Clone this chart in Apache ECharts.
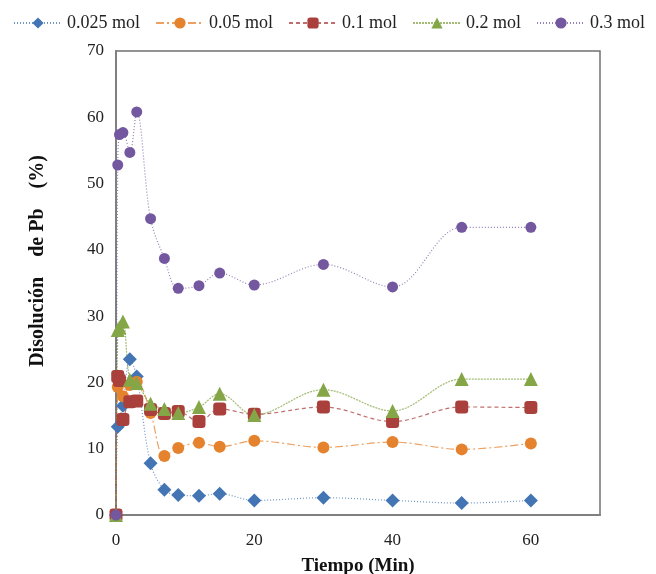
<!DOCTYPE html>
<html>
<head>
<meta charset="utf-8">
<script src="https://cdn.jsdelivr.net/npm/echarts@6/dist/echarts.min.js"></script>
<style>
  html, body { margin: 0; padding: 0; background: #fff; }
  #chart { width: 656px; height: 574px; }
</style>
</head>
<body>
<div id="chart"></div>
<script>
// tiempo (min)
const times = [0, 0.25, 0.5, 1, 2, 3, 5, 7, 9, 12, 15, 20, 30, 40, 50, 60]

// disolución de Pb (%) per concentración
const mol0025 = [0, 13.3, null, 16.5, 23.5, 20.9, 7.8, 3.8, 3.0, 2.9, 3.2, 2.2, 2.6, 2.2, 1.8, 2.2]
const mol005 = [0, 19.3, null, 17.9, 19.6, 20.1, 15.4, 8.9, 10.1, 10.9, 10.3, 11.2, 10.2, 11.0, 9.9, 10.8]
const mol01 = [0, 20.9, 20.3, 14.4, 17.1, 17.2, 15.9, 15.3, 15.6, 14.1, 16.0, 15.2, 16.3, 14.1, 16.3, 16.2]
const mol02 = [0, 27.9, 28.3, 29.2, 20.4, 19.9, 16.8, 16.0, 15.4, 16.3, 18.3, 15.1, 18.9, 15.7, 20.5, 20.5]
const mol03 = [0, 52.8, 57.4, 57.7, 54.7, 60.8, 44.7, 38.7, 34.2, 34.6, 36.5, 34.7, 37.8, 34.4, 43.4, 43.4]

const seriesNames = ['0.025 mol', '0.05 mol', '0.1 mol', '0.2 mol', '0.3 mol']
const yTicks = [0, 10, 20, 30, 40, 50, 60, 70]
const xTicks = [0, 20, 40, 60]

const serif = '"Liberation Serif", "DejaVu Serif", serif'

const toPairs = vals => times
  .map((t, i) => [t, vals[i]])
  .filter(p => p[1] !== null)

const makeSeries = (name, vals, color, symbol, size, dash) => ({
  name,
  type: 'line',
  smooth: 0.35,
  symbol,
  symbolSize: size,
  itemStyle: { color },
  lineStyle: { color, width: 1.2, type: dash, opacity: 0.75 },
  data: toPairs(vals)
})

const chart = echarts.init(document.getElementById('chart'))

const option = {
  animation: false,
  textStyle: { fontFamily: serif },
  legend: {
    top: 9,
    left: 8,
    itemWidth: 48,
    itemHeight: 14,
    itemGap: 15,
    textStyle: { fontFamily: serif, fontSize: 18, color: '#222' },
    data: seriesNames
  },
  grid: {
    left: 116,
    right: 56,
    top: 51,
    bottom: 59,
    containLabel: false,
    outerBoundsMode: 'none',
    show: true,
    borderColor: '#707070',
    borderWidth: 1.5
  },
  xAxis: {
    type: 'value',
    min: 0,
    max: 70,
    interval: 20,
    name: 'Tiempo (Min)',
    nameLocation: 'middle',
    nameGap: 42,
    nameTextStyle: { fontFamily: serif, fontSize: 19, fontWeight: 'bold', color: '#111' },
    axisLine: { lineStyle: { color: '#808080', width: 2 } },
    axisTick: { show: false },
    splitLine: { show: false },
    axisLabel: {
      fontFamily: serif,
      fontSize: 17,
      color: '#222',
      margin: 17,
      showMaxLabel: false,
      formatter: v => (xTicks.includes(v) ? String(v) : '')
    }
  },
  yAxis: {
    type: 'value',
    min: 0,
    max: 70,
    interval: 10,
    name: 'Disolución    de Pb    (%)',
    nameLocation: 'middle',
    nameGap: 68,
    nameTextStyle: {
      fontFamily: serif,
      fontSize: 20,
      fontWeight: 'bold',
      color: '#111',
      padding: [0, 0, 0, 44]
    },
    axisLine: { show: true, lineStyle: { color: '#808080', width: 2 } },
    axisTick: { show: false },
    splitLine: { show: false },
    axisLabel: {
      fontFamily: serif,
      fontSize: 17,
      color: '#222',
      margin: 12,
      formatter: v => (yTicks.includes(v) ? String(v) : '')
    }
  },
  series: [
    makeSeries(seriesNames[0], mol0025, '#4374B4', 'diamond', 14, [1, 2]),
    makeSeries(seriesNames[1], mol005, '#E5822E', 'circle', 12, [8, 3, 2, 3]),
    makeSeries(seriesNames[2], mol01, '#A9403C', 'roundRect', 13, [4, 3]),
    makeSeries(seriesNames[3], mol02, '#84A646', 'triangle', 14, [2, 1]),
    makeSeries(seriesNames[4], mol03, '#7358A0', 'circle', 11, [1, 2])
  ]
}

chart.setOption(option)
</script>
</body>
</html>
